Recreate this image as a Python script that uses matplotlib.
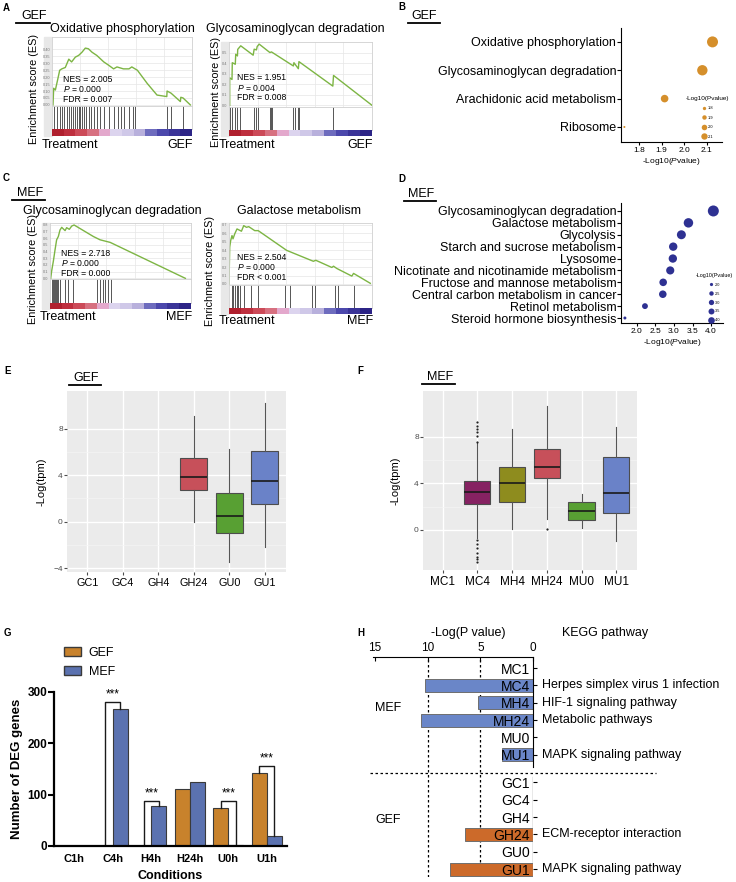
"""Multi-panel GSEA / KEGG / expression figure."""
import numpy as np
import matplotlib
matplotlib.use('Agg')
import matplotlib.pyplot as plt
from matplotlib.patches import Patch, Rectangle
from matplotlib.lines import Line2D
from matplotlib.colors import ListedColormap

plt.rcParams['font.family'] = ['Liberation Sans', 'DejaVu Sans']
plt.rcParams['mathtext.fontset'] = 'custom'
plt.rcParams['mathtext.rm'] = 'Liberation Sans'
plt.rcParams['mathtext.it'] = 'Liberation Sans:italic'

# ---------------- data ----------------
# A: GSEA running enrichment scores (rank fraction, ES) and hit positions
oxphos_x = [0.007, 0.012, 0.024, 0.04, 0.055, 0.07, 0.095, 0.12, 0.14, 0.167, 0.19,
            0.214, 0.238, 0.26, 0.286, 0.32, 0.37, 0.405, 0.44, 0.464, 0.51, 0.55,
            0.57, 0.61, 0.68, 0.75, 0.82, 0.822, 0.85, 0.917, 0.92, 0.936, 0.988]
oxphos_es = [0.0, 0.12, 0.107, 0.18, 0.25, 0.26, 0.27, 0.33, 0.31, 0.345, 0.357,
             0.38, 0.41, 0.405, 0.38, 0.357, 0.31, 0.286, 0.26, 0.274, 0.26, 0.26,
             0.274, 0.25, 0.155, 0.071, 0.06, 0.1, 0.085, 0.024, 0.055, 0.05, 0.0]
oxphos_hits = [0.017, 0.036, 0.055, 0.071, 0.088, 0.107, 0.119, 0.136, 0.15, 0.164,
               0.179, 0.193, 0.202, 0.217, 0.231, 0.245, 0.262, 0.279, 0.298, 0.321,
               0.345, 0.374, 0.405, 0.44, 0.469, 0.493, 0.517, 0.548, 0.579, 0.595,
               0.821, 0.85, 0.936]

gag_gef_x = [0.005, 0.005, 0.021, 0.023, 0.044, 0.047, 0.059, 0.061, 0.082, 0.169,
             0.176, 0.192, 0.197, 0.211, 0.286, 0.297, 0.45, 0.454, 0.485, 0.489,
             0.726, 0.731, 1.0]
gag_gef_es = [0.0, 0.261, 0.245, 0.404, 0.389, 0.484, 0.468, 0.53, 0.564, 0.475,
              0.532, 0.525, 0.557, 0.58, 0.5, 0.506, 0.373, 0.404, 0.347, 0.414,
              0.182, 0.283, 0.0]
gag_gef_hits = [0.009, 0.023, 0.044, 0.059, 0.08, 0.173, 0.187, 0.204, 0.29, 0.297,
                0.304, 0.45, 0.461, 0.485, 0.492, 0.726]

# C: MEF GSEA
gag_mef_x = [0.005, 0.012, 0.024, 0.036, 0.047, 0.059, 0.071, 0.083, 0.107, 0.118,
             0.137, 0.154, 0.171, 0.308, 0.355, 0.427, 0.96]
gag_mef_es = [0.0, 0.113, 0.26, 0.431, 0.578, 0.627, 0.725, 0.765, 0.716, 0.76,
              0.735, 0.784, 0.8, 0.627, 0.578, 0.539, 0.0]
gag_mef_hits = [0.012, 0.019, 0.026, 0.033, 0.04, 0.047, 0.059, 0.071, 0.107, 0.13,
                0.161, 0.332, 0.355, 0.374, 0.391, 0.408, 0.431]

gal_x = [0.0, 0.005, 0.012, 0.021, 0.028, 0.04, 0.056, 0.087, 0.103, 0.122, 0.138,
         0.18, 0.204, 0.403, 0.59, 0.607, 0.719, 0.731, 0.754, 0.859, 0.871, 0.988]
gal_es = [0.0, 0.436, 0.514, 0.572, 0.533, 0.591, 0.65, 0.623, 0.689, 0.669, 0.677,
          0.63, 0.63, 0.397, 0.268, 0.28, 0.195, 0.21, 0.183, 0.093, 0.125, 0.008]
gal_hits = [0.019, 0.03, 0.042, 0.054, 0.065, 0.077, 0.107, 0.152, 0.205, 0.392,
            0.427, 0.578, 0.601, 0.741, 0.765, 0.874]

rank_colors = ['#B0202E', '#BE2F3E', '#CC4A58', '#D77080', '#E3A8CC', '#DCD4EE',
               '#CFC8E8', '#B8B0DC', '#6E6CBE', '#4C48AC', '#3A3498', '#2C2486']

# B: GEF KEGG enrichment
gef_kegg = ['Oxidative phosphorylation', 'Glycosaminoglycan degradation',
            'Arachidonic acid metabolism', 'Ribosome']
gef_kegg_p = [2.125, 2.08, 1.913, 1.735]
gef_legend_vals = [1.8, 1.9, 2.0, 2.1]

# D: MEF KEGG enrichment
mef_kegg = ['Glycosaminoglycan degradation', 'Galactose metabolism', 'Glycolysis',
            'Starch and sucrose metabolism', 'Lysosome',
            'Nicotinate and nicotinamide metabolism', 'Fructose and mannose metabolism',
            'Central carbon metabolism in cancer', 'Retinol metabolism',
            'Steroid hormone biosynthesis']
mef_kegg_p = [4.06, 3.39, 3.2, 2.98, 2.97, 2.9, 2.71, 2.7, 2.22, 1.68]
mef_legend_vals = [2.0, 2.5, 3.0, 3.5, 4.0]

# E: GEF expression boxes
gef_groups = ['GC1', 'GC4', 'GH4', 'GH24', 'GU0', 'GU1']
gef_whislo = [np.nan, np.nan, np.nan, 0.0, -3.5, -2.15]
gef_q1 = [np.nan, np.nan, np.nan, 2.76, -0.95, 1.55]
gef_med = [np.nan, np.nan, np.nan, 3.88, 0.52, 3.55]
gef_q3 = [np.nan, np.nan, np.nan, 5.5, 2.5, 6.1]
gef_whishi = [np.nan, np.nan, np.nan, 9.1, 6.3, 10.25]
gef_box_colors = [None, None, None, '#C7505A', '#58A033', '#6A82C8']

# F: MEF expression boxes
mef_groups = ['MC1', 'MC4', 'MH4', 'MH24', 'MU0', 'MU1']
mef_whislo = [np.nan, -0.72, 0.09, 0.94, 0.17, -0.95]
mef_q1 = [np.nan, 2.24, 2.41, 4.48, 0.86, 1.46]
mef_med = [np.nan, 3.28, 4.05, 5.43, 1.64, 3.2]
mef_q3 = [np.nan, 4.22, 5.43, 6.97, 2.4, 6.3]
mef_whishi = [np.nan, 7.47, 8.7, 10.7, 3.1, 8.87]
mef_fliers = [[], [9.25, 8.97, 8.68, 8.39, 8.1, 7.6, -0.86, -1.2, -1.58, -2.0, -2.3,
                   -2.53, -2.73], [], [0.1], [], []]
mef_box_colors = [None, '#862262', '#8E8C1E', '#C7505A', '#58A033', '#6A82C8']

# G: DEG counts
conditions = ['C1h', 'C4h', 'H4h', 'H24h', 'U0h', 'U1h']
gef_deg = [0, 0, 0, 112, 75, 143]
mef_deg = [0, 266, 77, 125, 2, 20]
sig_top = [None, 281, 88, None, 87, 156]

# H: KEGG pathways per sample
mef_samples = ['MC1', 'MC4', 'MH4', 'MH24', 'MU0', 'MU1']
mef_logp = [0, 10.3, 5.2, 10.6, 0, 2.9]
mef_path = ['', 'Herpes simplex virus 1 infection', 'HIF-1 signaling pathway',
            'Metabolic pathways', '', 'MAPK signaling pathway']
gef_samples = ['GC1', 'GC4', 'GH4', 'GH24', 'GU0', 'GU1']
gef_logp = [0, 0, 0, 6.5, 0, 7.9]
gef_path = ['', '', '', 'ECM-receptor interaction', '', 'MAPK signaling pathway']

ORANGE = '#D58F2B'
NAVY = '#2E3192'
GREEN = '#7DB544'

# ---------------- helpers ----------------
W, H = 736, 882
fig = plt.figure(figsize=(W / 100, H / 100), dpi=100)


def px_axes(x0, y0, x1, y1):
    """Axes placed by pixel box (y from top)."""
    return fig.add_axes([x0 / W, 1 - y1 / H, (x1 - x0) / W, (y1 - y0) / H])


def px_text(x, y, s, **kw):
    fig.text(x / W, 1 - y / H, s, **kw)


def underline(x0, x1, y):
    fig.add_artist(Line2D([x0 / W, x1 / W], [1 - y / H] * 2, color='black', lw=1.3))


def panel_letter(x, y, s):
    px_text(x, y, s, fontsize=7, fontweight='bold', va='center', ha='left')


def gsea(box, hits_bottom, bar_bottom, es_x, es_y, hits, yticks, fmt, ylim,
         title, title_xy, stats, stats_pos, right_label, label_y, ylab_x):
    x0, y0, x1, y1 = box
    fig.add_artist(Rectangle(((x0 - 8) / W, 1 - bar_bottom / H), 8 / W,
                             (bar_bottom - y0) / H, transform=fig.transFigure,
                             color='#E8E8E8', zorder=0))
    ax = px_axes(x0, y0, x1, y1)
    ax.plot(es_x, es_y, color=GREEN, lw=1)
    ax.set_xlim(0, 1)
    ax.set_ylim(*ylim)
    ax.set_yticks(yticks)
    ax.set_yticklabels([fmt.format(t) for t in yticks])
    ax.set_xticks([0.2, 0.4, 0.6, 0.8])
    ax.tick_params(axis='x', length=0, labelbottom=False)
    ax.tick_params(axis='y', length=0, labelsize=2.8, labelcolor='#777777', pad=1)
    ax.grid(color='#E6E6E6', lw=0.5)
    for s in ax.spines.values():
        s.set_color('#D0D0D0')
        s.set_linewidth(0.6)
    for i, line in enumerate(stats):
        ax.text((stats_pos[0] - x0) / (x1 - x0), 1 - (stats_pos[1] + 10 * i - y0) / (y1 - y0),
                line, transform=ax.transAxes, fontsize=6.2, va='center', ha='left')

    hx = px_axes(x0, y1, x1, hits_bottom)
    hx.vlines(hits, 0, 1, color='#3A3A3A', lw=0.6)
    hx.set_xlim(0, 1)
    hx.set_ylim(0, 1)
    hx.set_xticks([])
    hx.set_yticks([])
    for s in hx.spines.values():
        s.set_color('#D0D0D0')
        s.set_linewidth(0.6)

    cb = px_axes(x0, hits_bottom, x1, bar_bottom)
    cb.imshow(np.arange(len(rank_colors))[None, :], cmap=ListedColormap(rank_colors),
              aspect='auto', extent=(0, 1, 0, 1))
    cb.axis('off')

    px_text(title_xy[0], title_xy[1], title, fontsize=9, ha='center', va='center')
    px_text(x0 - 10, label_y, 'Treatment', fontsize=9, ha='left', va='center')
    px_text(x1 + 1, label_y, right_label, fontsize=9, ha='right', va='center')
    px_text(ylab_x, (y0 + bar_bottom) / 2 + 3, 'Enrichment score (ES)', fontsize=7.8,
            rotation=90, ha='center', va='center')


def kegg_dots(box, names, vals, color, xlim, ylim, xticks, d_range, leg_vals,
              leg_ms, leg_anchor, leg_fonts, leg_spacing):
    ax = px_axes(*box)
    v = np.array(vals)
    d2 = d_range[0] ** 2 + (v - v.min()) / (v.max() - v.min()) * (d_range[1] ** 2 - d_range[0] ** 2)
    ax.scatter(v, np.arange(len(names)), s=d2 * 0.72 ** 2, color=color, lw=0)
    ax.set_xlim(*xlim)
    ax.set_ylim(*ylim)
    ax.set_yticks(np.arange(len(names)))
    ax.set_yticklabels(names, fontsize=9)
    ax.set_xticks(xticks)
    ax.set_xticklabels([f'{t:.1f}' for t in xticks], fontsize=6)
    ax.set_xlabel('-Log10($P$value)', fontsize=6, labelpad=1.5)
    ax.tick_params(axis='y', length=3, pad=0.5)
    ax.tick_params(axis='x', length=2, pad=1.5)
    ax.spines[['top', 'right']].set_visible(False)
    handles = [Line2D([], [], ls='', marker='o', color=color, markersize=m, mew=0)
               for m in leg_ms]
    ax.legend(handles, [f'{t:.1f}' for t in leg_vals], title='-Log10(Pvalue)',
              loc='upper left', bbox_to_anchor=(leg_anchor[0] / W, 1 - leg_anchor[1] / H),
              bbox_transform=fig.transFigure, frameon=False, fontsize=leg_fonts[0],
              title_fontsize=leg_fonts[1], handletextpad=0.4, labelspacing=leg_spacing,
              borderpad=0, handlelength=1.2, alignment='center')


def ggbox(box, groups, whislo, q1, med, q3, whishi, fliers, colors, ylim, yticks,
          xlab_size, ylab_pad):
    ax = px_axes(*box)
    ax.set_facecolor('#EBEBEB')
    stats, pos, cols = [], [], []
    for i in range(len(groups)):
        if np.isnan(med[i]):
            continue
        stats.append(dict(whislo=whislo[i], q1=q1[i], med=med[i], q3=q3[i],
                          whishi=whishi[i], fliers=fliers[i]))
        pos.append(i)
        cols.append(colors[i])
    bp = ax.bxp(stats, positions=pos, widths=0.75, patch_artist=True, showcaps=False,
                boxprops=dict(edgecolor='#4D4D4D', lw=0.8),
                whiskerprops=dict(color='#555555', lw=0.8),
                medianprops=dict(color='#1A1A1A', lw=1.2),
                flierprops=dict(marker='o', markersize=1.6, markerfacecolor='#222222',
                                markeredgecolor='none'))
    for patch, c in zip(bp['boxes'], cols):
        patch.set_facecolor(c)
    ax.set_xlim(-0.57, len(groups) - 0.4)
    ax.set_ylim(*ylim)
    ax.set_xticks(range(len(groups)))
    ax.set_xticklabels(groups, fontsize=xlab_size)
    ax.set_yticks(yticks)
    ax.set_yticks(np.array(yticks[:-1]) + 2, minor=True)
    ax.tick_params(axis='y', which='major', labelsize=6, labelcolor='#4D4D4D',
                   length=2, color='#4D4D4D', pad=1)
    ax.tick_params(axis='y', which='minor', length=0)
    ax.tick_params(axis='x', length=2, color='#4D4D4D', pad=2)
    ax.grid(which='major', color='white', lw=1)
    ax.grid(which='minor', axis='y', color='#F5F5F5', lw=0.5)
    ax.set_axisbelow(True)
    for s in ax.spines.values():
        s.set_visible(False)
    ax.set_ylabel('-Log(tpm)', fontsize=8, labelpad=ylab_pad)
    return ax


# ---------------- A ----------------
panel_letter(3, 8, 'A')
px_text(21, 16, 'GEF', fontsize=9, va='center')
underline(16, 50, 23)
gsea((52, 37, 192, 106), 129, 136, oxphos_x, oxphos_es, oxphos_hits,
     np.arange(0, 0.41, 0.05), '{:.2f}', (-0.008, 0.49), 'Oxidative phosphorylation',
     (122, 29), ['NES = 2.005', '$P$ = 0.000', 'FDR = 0.007'], (63, 79), 'GEF', 145, 34)
gsea((229, 42, 372, 107), 130, 136, gag_gef_x, gag_gef_es, gag_gef_hits,
     np.arange(0, 0.51, 0.1), '{:.1f}', (-0.016, 0.6), 'Glycosaminoglycan degradation',
     (295, 29), ['NES = 1.951', '$P$ = 0.004', 'FDR = 0.008'], (237, 78), 'GEF', 145, 216)

# ---------------- B ----------------
panel_letter(398, 7, 'B')
px_text(411, 16, 'GEF', fontsize=9, va='center')
underline(408, 440, 23)
kegg_dots((621, 28, 722, 142), gef_kegg, gef_kegg_p, ORANGE, (1.72, 2.167),
          (3.53, -0.49), [1.8, 1.9, 2.0, 2.1], (2, 11), gef_legend_vals,
          [2.4, 3.2, 4.0, 4.6], (684, 94), (2.9, 4.6), 1.35)

# ---------------- C ----------------
panel_letter(3, 178, 'C')
px_text(17, 193, 'MEF', fontsize=9, va='center')
underline(12, 45, 200)
gsea((50, 223, 191, 279), 303, 309, gag_mef_x, gag_mef_es, gag_mef_hits,
     np.arange(0, 0.81, 0.1), '{:.1f}', (-0.01, 0.83), 'Glycosaminoglycan degradation',
     (112, 211), ['NES = 2.718', '$P$ = 0.000', 'FDR = 0.000'], (61, 253), 'MEF', 317, 33)
gsea((229, 223, 372, 285), 308, 314, gal_x, gal_es, gal_hits,
     np.arange(0, 0.71, 0.1), '{:.1f}', (-0.012, 0.72), 'Galactose metabolism',
     (299, 211), ['NES = 2.504', '$P$ = 0.000', 'FDR < 0.001'], (237, 257), 'MEF', 321, 210)

# ---------------- D ----------------
panel_letter(398, 179, 'D')
px_text(408, 194, 'MEF', fontsize=9, va='center')
underline(404, 436, 201)
kegg_dots((621, 203, 723, 323), mef_kegg, mef_kegg_p, NAVY, (1.575, 4.32),
          (9.42, -0.67), [2.0, 2.5, 3.0, 3.5, 4.0], (3, 11), mef_legend_vals,
          [2.3, 3.2, 3.8, 4.3, 4.8], (694, 271), (2.8, 3.9), 1.25)

# ---------------- E / F ----------------
panel_letter(4, 371, 'E')
px_text(73, 378, 'GEF', fontsize=9, va='center')
underline(69, 101, 385)
ggbox((67, 391, 286, 572), gef_groups, gef_whislo, gef_q1, gef_med, gef_q3, gef_whishi,
      [[]] * 6, gef_box_colors, (-4.34, 11.27), [-4, 0, 4, 8], 7.8, 5)

panel_letter(357, 371, 'F')
px_text(427, 377, 'MEF', fontsize=9, va='center')
underline(422, 455, 384)
ggbox((423, 391, 637, 570), mef_groups, mef_whislo, mef_q1, mef_med, mef_q3, mef_whishi,
      mef_fliers, mef_box_colors, (-3.45, 11.96), [0, 4, 8], 8.5, 10)

# ---------------- G ----------------
panel_letter(4, 633, 'G')
gx = px_axes(54, 692, 287, 846)
xpos = np.arange(len(conditions))
bw = 0.39
gx.bar(xpos - bw / 2, gef_deg, width=bw, color='#C8822C', edgecolor='#3A3A3A', lw=0.8)
gx.bar(xpos + bw / 2, mef_deg, width=bw, color='#5B72B0', edgecolor='#3A3A3A', lw=0.8)
for i, top in enumerate(sig_top):
    if top is None:
        continue
    gx.plot([xpos[i] - bw / 2, xpos[i] - bw / 2, xpos[i] + bw / 2, xpos[i] + bw / 2],
            [gef_deg[i], top, top, mef_deg[i]], color='#1A1A1A', lw=1)
    gx.text(xpos[i], top + 3, '***', ha='center', va='bottom', fontsize=8.5)
gx.set_xlim(-0.52, 5.52)
gx.set_ylim(0, 300)
gx.set_yticks([0, 100, 200, 300])
gx.set_xticks(xpos)
gx.set_xticklabels(conditions, fontweight='bold', fontsize=8)
gx.tick_params(axis='y', labelsize=8.5, width=1.5, length=4, pad=1)
gx.tick_params(axis='x', width=1.5, length=0, pad=6)
for t in gx.get_yticklabels():
    t.set_fontweight('bold')
gx.spines[['top', 'right']].set_visible(False)
gx.spines[['left', 'bottom']].set_linewidth(1.6)
gx.set_ylabel('Number of DEG genes', fontsize=9.5, fontweight='bold', labelpad=3)
gx.set_xlabel('Conditions', fontsize=9, fontweight='bold', labelpad=4)
fig.legend(handles=[Patch(facecolor='#C8822C', edgecolor='#3A3A3A', label='GEF'),
                    Patch(facecolor='#5B72B0', edgecolor='#3A3A3A', label='MEF')],
           loc='upper left', bbox_to_anchor=(53 / W, 1 - 636 / H), frameon=False,
           fontsize=9, handlelength=1.35, handleheight=0.75, labelspacing=0.55,
           handletextpad=0.6)

# ---------------- H ----------------
panel_letter(357, 633, 'H')
hx = px_axes(373, 657, 533, 877)
mef_rows = np.arange(len(mef_samples))
gef_rows = np.arange(len(gef_samples)) + 6.6
sep = 6.07
for rows, vals, col in [(mef_rows, mef_logp, '#6A86C8'), (gef_rows, gef_logp, '#CC6A2A')]:
    keep = [i for i, v in enumerate(vals) if v > 0]
    hx.barh(rows[keep], np.array(vals)[keep], height=0.75, color=col,
            edgecolor='#6E6E6E', lw=0.7, zorder=1)
hx.set_xlim(15.2, 0)
hx.set_ylim(12.06, -0.64)
hx.xaxis.tick_top()
hx.set_xticks([15, 10, 5, 0])
hx.tick_params(axis='x', direction='in', length=3, labelsize=8.5, pad=2)
hx.set_yticks(np.r_[mef_rows, gef_rows])
hx.set_yticklabels(mef_samples + gef_samples, fontsize=8.5)
hx.tick_params(axis='y', direction='in', length=3, pad=2)
hx.yaxis.set_zorder(3)
hx.spines[['bottom', 'right']].set_visible(False)
hx.spines['left'].set_position(('data', 0))
hx.spines['left'].set_bounds(-0.64, sep - 0.35)
hx.axvline(0, ymin=0, ymax=(12.06 - sep - 0.2) / 12.7, color='#8A8A8A', lw=1)
for xv in [10, 5]:
    hx.axvline(xv, color='black', ls=(0, (2, 2)), lw=0.9, zorder=0.5)
hx.axhline(sep, xmin=-0.02, xmax=1.77, color='black', ls=(0, (2, 2)), lw=0.9,
           clip_on=False)
for rows, names in [(mef_rows, mef_path), (gef_rows, gef_path)]:
    for r, name in zip(rows, names):
        if name:
            hx.annotate(name, xy=(0, r), xytext=(6.5, 0), textcoords='offset points',
                        va='center', ha='left', fontsize=9, annotation_clip=False)
px_text(468, 633, '-Log(P value)', fontsize=9, ha='center', va='center')
px_text(605, 633, 'KEGG pathway', fontsize=9, ha='center', va='center')
px_text(375, 708, 'MEF', fontsize=9, ha='left', va='center')
px_text(375, 820, 'GEF', fontsize=9, ha='left', va='center')

fig.savefig('out.png', dpi=100)
plt.close(fig)
